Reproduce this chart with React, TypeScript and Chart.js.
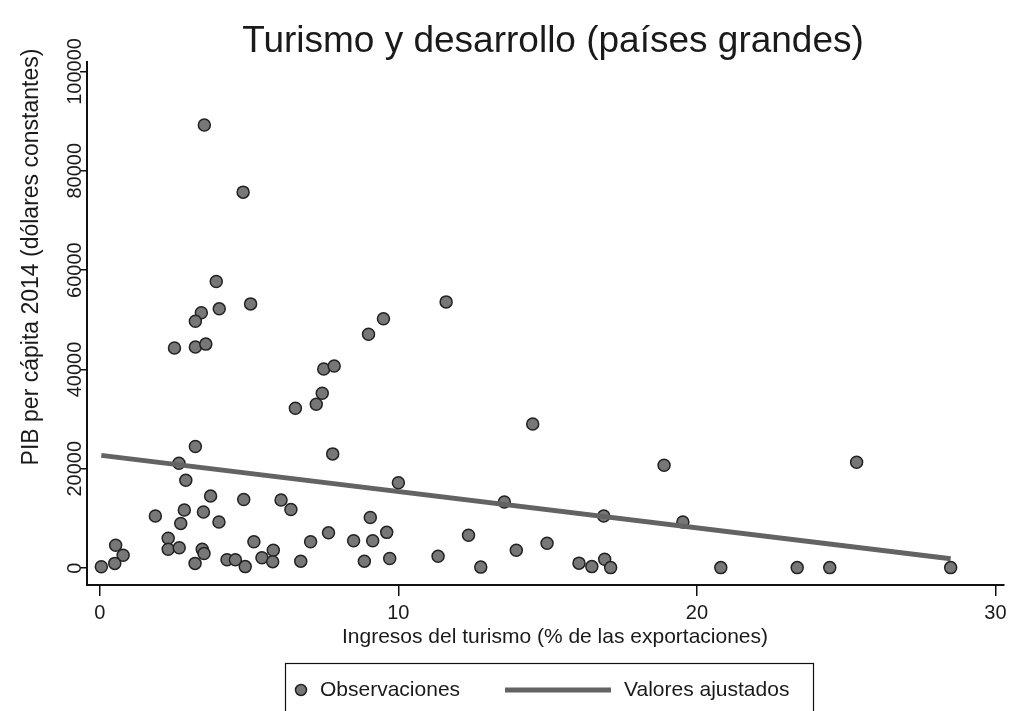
import React, { useEffect, useRef } from "react";
import { Chart, registerables } from "chart.js";

Chart.register(...registerables);

// Observations: tourism receipts (% of exports) vs GDP per capita 2014
const obsX = [
  3.5, 4.8, 3.9, 5.05, 4.0, 3.4, 3.2, 2.5, 3.2, 3.55,
  11.6, 9.5, 9.0, 7.5, 7.85, 7.45, 7.25, 6.55, 7.8, 14.5,
  18.9, 25.35, 3.2, 2.65, 10.0, 2.88, 3.71, 1.86, 2.83, 2.71,
  3.47, 3.99, 2.29, 2.29, 2.66, 3.43, 3.49, 3.19, 0.53, 0.78,
  0.5, 0.05, 4.26, 4.54, 4.87, 4.82, 6.07, 6.4, 9.06, 7.66,
  9.61, 5.16, 7.06, 8.5, 9.14, 5.81, 5.43, 5.79, 6.73, 8.86,
  9.71, 12.35, 11.33, 12.76, 13.95, 13.55, 14.98, 16.05, 16.48, 16.91,
  17.11, 16.88, 19.53, 20.8, 23.36, 24.45, 28.5,
];
const obsY = [
  89200, 75700, 57700, 53200, 52200, 51400, 49700, 44300, 44500, 45100,
  53600, 50200, 47100, 40100, 40700, 35200, 33000, 32200, 23000, 29000,
  20700, 21300, 24500, 21100, 17200, 17700, 14500, 10500, 11700, 9000,
  11300, 9300, 6000, 3800, 4100, 3800, 2950, 950, 4600, 2600,
  950, 260, 1700, 1700, 300, 13800, 13700, 11800, 10200, 7100,
  7200, 5300, 5300, 5500, 5500, 3600, 2100, 1300, 1400, 1400,
  1950, 6600, 2400, 200, 3600, 13300, 5000, 1000, 300, 1800,
  100, 10500, 9300, 100, 100, 100, 100,
];

// Fitted values (linear fit) endpoints
const fitX = [0.05, 28.5];
const fitY = [22700, 1900];

const xTicks = [0, 10, 20, 30];
const yTicks = [0, 20000, 40000, 60000, 80000, 100000];

const titleText = "Turismo y desarrollo (países grandes)";
const xTitle = "Ingresos del turismo (% de las exportaciones)";
const yTitle = "PIB per cápita 2014 (dólares constantes)";
const seriesLabels = ["Observaciones", "Valores ajustados"];

const FONT = '"Liberation Sans", Arial, sans-serif';
const TEXT = "#1a1a1a";
const PT_FILL = "#777777";
const PT_BORDER = "#222222";
const LINE_COLOR = "#636363";

const textPlugin = {
  id: "stataText",
  afterDraw(chart: any) {
    const ctx = chart.ctx as CanvasRenderingContext2D;
    const xs = chart.scales.x;
    const ys = chart.scales.y;
    ctx.save();
    ctx.fillStyle = TEXT;

    // title
    ctx.font = `37px ${FONT}`;
    ctx.textAlign = "center";
    ctx.textBaseline = "alphabetic";
    ctx.fillText(titleText, 553, 52);

    // x tick labels
    ctx.font = `20px ${FONT}`;
    ctx.textBaseline = "middle";
    xTicks.forEach((v) => ctx.fillText(String(v), xs.getPixelForValue(v), 613));

    // y tick labels (rotated)
    yTicks.forEach((v) => {
      ctx.save();
      ctx.translate(75, ys.getPixelForValue(v));
      ctx.rotate(-Math.PI / 2);
      ctx.fillText(String(v), 0, 0);
      ctx.restore();
    });

    // x axis title
    ctx.font = `21px ${FONT}`;
    ctx.fillText(xTitle, 555, 637);

    // y axis title
    ctx.save();
    ctx.font = `23px ${FONT}`;
    ctx.translate(32, 257);
    ctx.rotate(-Math.PI / 2);
    ctx.fillText(yTitle, 0, 0);
    ctx.restore();

    // legend box
    ctx.strokeStyle = "#111";
    ctx.lineWidth = 1.2;
    ctx.strokeRect(285.5, 663.5, 528, 70);

    // legend marker: point
    ctx.beginPath();
    ctx.arc(301, 690, 5.5, 0, Math.PI * 2);
    ctx.fillStyle = PT_FILL;
    ctx.fill();
    ctx.strokeStyle = PT_BORDER;
    ctx.lineWidth = 1.5;
    ctx.stroke();

    // legend marker: line
    ctx.beginPath();
    ctx.moveTo(505, 690);
    ctx.lineTo(611, 690);
    ctx.strokeStyle = LINE_COLOR;
    ctx.lineWidth = 5;
    ctx.stroke();

    ctx.fillStyle = TEXT;
    ctx.font = `21px ${FONT}`;
    ctx.textAlign = "left";
    ctx.fillText(seriesLabels[0], 320, 690);
    ctx.fillText(seriesLabels[1], 624, 690);

    ctx.restore();
  },
};

export default function App() {
  const ref = useRef<HTMLCanvasElement | null>(null);

  useEffect(() => {
    if (!ref.current) return;
    const obs = obsX.map((x, i) => ({ x, y: obsY[i] }));
    const fit = fitX.map((x, i) => ({ x, y: fitY[i] }));
    const chart = new Chart(ref.current, {
      type: "scatter",
      data: {
        datasets: [
          {
            label: seriesLabels[1],
            type: "line",
            data: fit,
            borderColor: LINE_COLOR,
            borderWidth: 5,
            pointRadius: 0,
            fill: false,
            order: 0,
          } as any,
          {
            label: seriesLabels[0],
            data: obs,
            backgroundColor: PT_FILL,
            borderColor: PT_BORDER,
            borderWidth: 1.5,
            pointRadius: 6,
            order: 1,
          },
        ],
      },
      options: {
        responsive: false,
        animation: false,
        layout: { padding: { left: 0, right: 0, top: 62, bottom: 0 } },
        plugins: {
          legend: { display: false },
          title: { display: false },
          tooltip: { enabled: false },
        },
        scales: {
          x: {
            type: "linear",
            min: -0.43,
            max: 30.27,
            ticks: { display: false },
            grid: {
              display: true,
              drawOnChartArea: false,
              drawTicks: true,
              tickLength: 11,
              color: "#111",
              lineWidth: 1.5,
            },
            border: { display: true, color: "#111", width: 2 },
            afterBuildTicks: (s: any) => {
              s.ticks = xTicks.map((v) => ({ value: v }));
            },
            afterFit: (s: any) => {
              s.height = 126;
            },
          },
          y: {
            type: "linear",
            min: -3400,
            max: 101900,
            ticks: { display: false },
            grid: {
              display: true,
              drawOnChartArea: false,
              drawTicks: true,
              tickLength: 7,
              color: "#111",
              lineWidth: 1.5,
            },
            border: { display: true, color: "#111", width: 2 },
            afterBuildTicks: (s: any) => {
              s.ticks = yTicks.map((v) => ({ value: v }));
            },
            afterFit: (s: any) => {
              s.width = 87;
            },
          },
        },
      },
      plugins: [textPlugin],
    });
    return () => chart.destroy();
  }, []);

  return (
    <canvas
      ref={ref}
      width={1011}
      height={711}
      style={{ position: "absolute", left: 0, top: 0, width: 1011, height: 711, background: "#fff" }}
    />
  );
}
